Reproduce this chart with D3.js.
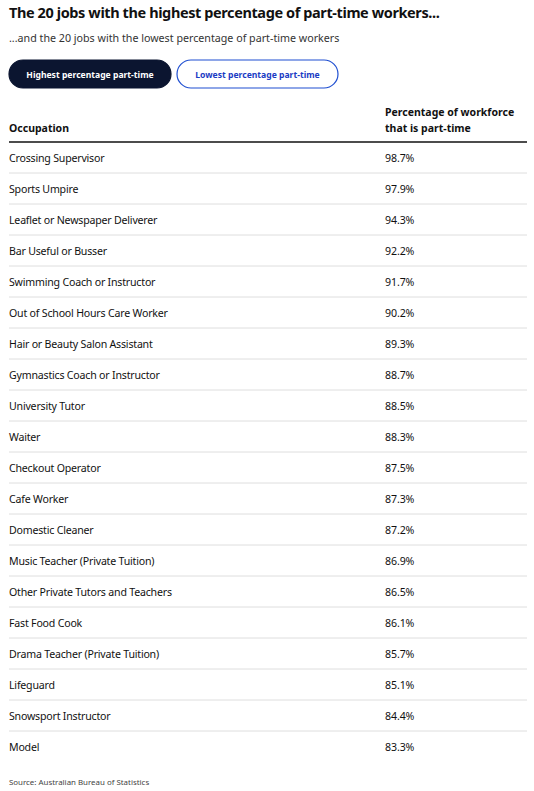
<!DOCTYPE html>
<html>
<head>
<meta charset="utf-8">
<script src="https://cdn.jsdelivr.net/npm/d3@7"></script>
<style>
  body { margin: 0; background: #fff; }
  text { font-family: "Noto Sans", sans-serif; fill: #111; }
</style>
</head>
<body>
<script>
// Table contents
var occupations = ["Crossing Supervisor", "Sports Umpire", "Leaflet or Newspaper Deliverer",
    "Bar Useful or Busser", "Swimming Coach or Instructor", "Out of School Hours Care Worker",
    "Hair or Beauty Salon Assistant", "Gymnastics Coach or Instructor", "University Tutor",
    "Waiter", "Checkout Operator", "Cafe Worker", "Domestic Cleaner",
    "Music Teacher (Private Tuition)", "Other Private Tutors and Teachers", "Fast Food Cook",
    "Drama Teacher (Private Tuition)", "Lifeguard", "Snowsport Instructor", "Model"];
var part_time = [98.7, 97.9, 94.3, 92.2, 91.7, 90.2, 89.3, 88.7, 88.5, 88.3,
                 87.5, 87.3, 87.2, 86.9, 86.5, 86.1, 85.7, 85.1, 84.4, 83.3];
var buttons = ["Highest percentage part-time", "Lowest percentage part-time"];
var header_cols = ["Occupation", ["Percentage of workforce", "that is part-time"]];

var width = 534, height = 791;
var margin = {left: 9, right: 7};

var svg = d3.select("body").append("svg")
        .attr("width", width)
        .attr("height", height);

// Title and subtitle
svg.append("text")
        .attr("x", margin.left).attr("y", 18)
        .style("font-size", "14.5px").style("font-weight", "bold")
        .style("letter-spacing", "-0.4px")
        .text("The 20 jobs with the highest percentage of part-time workers...");
svg.append("text")
        .attr("x", margin.left).attr("y", 42)
        .style("font-size", "10.7px").style("fill", "#333")
        .text("...and the 20 jobs with the lowest percentage of part-time workers");

// Toggle buttons
var btn_x = d3.scaleOrdinal().domain(buttons).range([9, 177]);
var btn_w = d3.scaleOrdinal().domain(buttons).range([162, 161]);
var btn = svg.selectAll(".btn").data(buttons).enter().append("g")
        .attr("class", "btn")
        .attr("transform", function(d) { return "translate(" + btn_x(d) + ",60)"; });
btn.append("rect")
        .attr("width", function(d) { return btn_w(d); })
        .attr("height", 28)
        .attr("rx", 14)
        .style("fill", function(d, i) { return i == 0 ? "#0b1530" : "#fff"; })
        .style("stroke", function(d, i) { return i == 0 ? "#0b1530" : "#1f4fd1"; })
        .style("stroke-width", 1.2);
btn.append("text")
        .attr("x", function(d) { return btn_w(d) / 2; })
        .attr("y", 17.5)
        .attr("text-anchor", "middle")
        .style("font-size", "8.6px").style("font-weight", "bold")
        .style("fill", function(d, i) { return i == 0 ? "#fff" : "#1a3bc4"; })
        .text(function(d) { return d; });

// Column positions
var col = d3.scaleOrdinal().domain([0, 1]).range([margin.left, 385]);

// Header
svg.append("text")
        .attr("x", col(0)).attr("y", 132)
        .style("font-size", "10.5px").style("font-weight", "bold")
        .text(header_cols[0]);
svg.append("text")
        .attr("x", col(1)).attr("y", 116)
        .style("font-size", "10.5px").style("font-weight", "bold")
    .selectAll("tspan").data(header_cols[1]).enter().append("tspan")
        .attr("x", col(1))
        .attr("dy", function(d, i) { return i == 0 ? 0 : 16; })
        .text(function(d) { return d; });

var y = d3.scaleBand().domain(occupations).range([142, 142 + 31 * occupations.length]);

svg.append("line")
        .attr("x1", margin.left).attr("x2", width - margin.right)
        .attr("y1", 142).attr("y2", 142)
        .style("stroke", "#111").style("stroke-width", 1.3);

// Rows
var rows = svg.append("g").selectAll("g")
        .data(occupations).enter().append("g")
        .attr("transform", function(d) { return "translate(0," + y(d) + ")"; });
rows.filter(function(d, i) { return i < occupations.length - 1; })
    .append("line")
        .attr("x1", margin.left).attr("x2", width - margin.right)
        .attr("y1", y.bandwidth()).attr("y2", y.bandwidth())
        .style("stroke", "#dedede");
rows.append("text")
        .attr("x", col(0)).attr("y", y.bandwidth() / 2 + 4)
        .style("font-size", "10.6px").style("letter-spacing", "-0.2px")
        .text(function(d) { return d; });
rows.append("text")
        .attr("x", col(1)).attr("y", y.bandwidth() / 2 + 4)
        .style("font-size", "10.6px").style("letter-spacing", "-0.1px")
        .text(function(d, i) { return part_time[i].toFixed(1) + "%"; });

// Source
svg.append("text")
        .attr("x", margin.left).attr("y", 785)
        .style("font-size", "7.9px").style("fill", "#444")
        .text("Source: Australian Bureau of Statistics");
</script>
</body>
</html>
